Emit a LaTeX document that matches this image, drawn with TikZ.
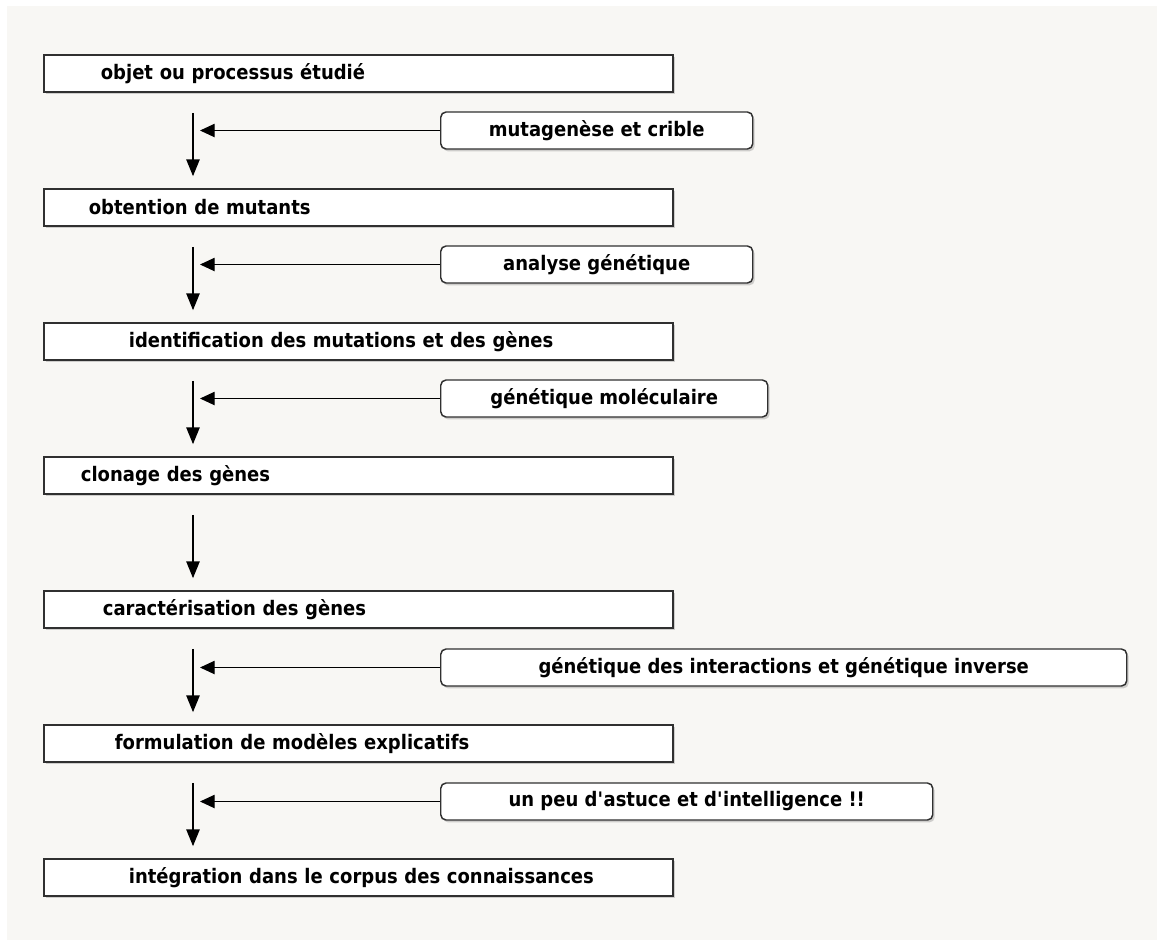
\documentclass[tikz,border=0pt]{standalone}
\usepackage{fontspec}
\setmainfont{DejaVu Sans}[FakeStretch=0.9]
\usetikzlibrary{arrows.meta,positioning,calc,shadows}
\definecolor{cPanel}{HTML}{F8F7F4}
\definecolor{cFrame}{HTML}{303030}

\tikzset{
  stage/.style={draw=cFrame, line width=1.3pt, fill=white, anchor=west,
    minimum height=27.75pt, text width=471.75pt, inner xsep=0pt, inner ysep=0pt,
    align=left, execute at begin node={\hspace*{#1}},
    drop shadow={shadow xshift=1.5pt, shadow yshift=-1.8pt, opacity=0.35}},
  tool/.style={draw=cFrame, line width=1.1pt, fill=white, anchor=west,
    rounded corners=4pt, minimum height=27.75pt, minimum width=#1, inner sep=0pt,
    drop shadow={shadow xshift=1.5pt, shadow yshift=-1.8pt, opacity=0.35}},
  flow/.style={line width=0.9pt, -{Triangle[length=12.5pt,width=10pt]}},
  feed/.style={line width=0.9pt, -{Triangle[length=11pt,width=10pt]}},
}

\begin{document}
\begin{tikzpicture}[x=0.75pt, y=-0.75pt,
    font=\fontsize{15}{18}\selectfont\bfseries]

\useasboundingbox (0,0) rectangle (1157,940);
\fill[white] (0,0) rectangle (1157,940);
\fill[cPanel] (7,6) rectangle (1157,940);

% ---- main column ----
\node[stage=42.75pt] (obj)  at (43,73.5)  {objet ou processus étudié};
\node[stage=33.75pt] (mut)  at (43,207.5) {obtention de mutants};
\node[stage=63.75pt] (ident) at (43,341.5) {identification des mutations et des gènes};
\node[stage=27.75pt] (clon) at (43,475.5) {clonage des gènes};
\node[stage=44.25pt] (carac) at (43,609.5) {caractérisation des gènes};
\node[stage=53.25pt] (form) at (43,743.5) {formulation de modèles explicatifs};
\node[stage=63.75pt] (integ) at (43,877.5) {intégration dans le corpus des connaissances};

% ---- methods on the right ----
\node[tool=234pt]    (crible) at (440,130.5) {mutagenèse et crible};
\node[tool=234pt]    (analyse) at (440,264.5) {analyse génétique};
\node[tool=245.25pt] (molec) at (440,398.5) {génétique moléculaire};
\node[tool=514.5pt]  (inter) at (440,667.5) {génétique des interactions et génétique inverse};
\node[tool=369pt]    (astuce) at (440,801.5)
      {un peu d\textquotesingle astuce et d\textquotesingle intelligence !!};

% spine where the side arrows stop
\coordinate (spine) at (200,0);

% ---- arrows: main column ----
\draw[flow] ($(obj.south west)+(150,20)$)   -- ($(mut.north west)+(150,-12)$);
\draw[flow] ($(mut.south west)+(150,20)$)   -- ($(ident.north west)+(150,-12)$);
\draw[flow] ($(ident.south west)+(150,20)$) -- ($(clon.north west)+(150,-12)$);
\draw[flow] ($(clon.south west)+(150,20)$)  -- ($(carac.north west)+(150,-12)$);
\draw[flow] ($(carac.south west)+(150,20)$) -- ($(form.north west)+(150,-12)$);
\draw[flow] ($(form.south west)+(150,20)$)  -- ($(integ.north west)+(150,-12)$);

% ---- arrows: methods ----
\draw[feed] (crible.west)  -- (crible.west -| spine);
\draw[feed] (analyse.west) -- (analyse.west -| spine);
\draw[feed] (molec.west)   -- (molec.west -| spine);
\draw[feed] (inter.west)   -- (inter.west -| spine);
\draw[feed] (astuce.west)  -- (astuce.west -| spine);

\end{tikzpicture}
\end{document}
